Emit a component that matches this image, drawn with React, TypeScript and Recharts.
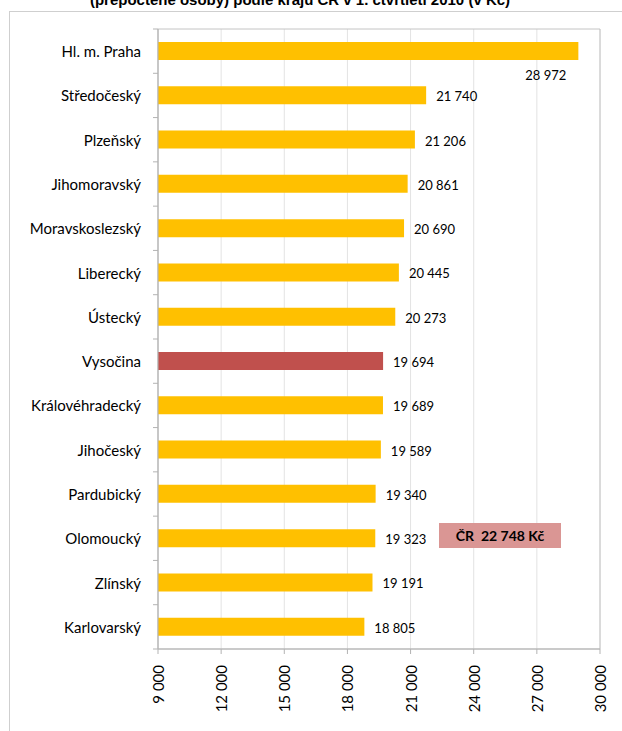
import React from 'react';
import { BarChart, Bar, XAxis, YAxis, CartesianGrid, Cell, LabelList, ReferenceArea } from 'recharts';

const regions = ['Hl. m. Praha', 'Středočeský', 'Plzeňský', 'Jihomoravský', 'Moravskoslezský', 'Liberecký', 'Ústecký', 'Vysočina', 'Královéhradecký', 'Jihočeský', 'Pardubický', 'Olomoucký', 'Zlínský', 'Karlovarský'];
const wages = [28972, 21740, 21206, 20861, 20690, 20445, 20273, 19694, 19689, 19589, 19340, 19323, 19191, 18805];
const xTicks = [9000, 12000, 15000, 18000, 21000, 24000, 27000, 30000];
const highlightRegion = 'Vysočina';
const czAverage = 22748;
const titleText = '(přepočtené osoby) podle krajů ČR v 1. čtvrtletí 2010 (v Kč)';

const data = regions.map((name, i) => ({ name, value: wages[i] }));
const maxWage = Math.max(...wages);

const FONT = 'Lato, "Open Sans", sans-serif';
const AXIS_GRAY = '#B3B3B3';
const BAND = 620 / regions.length;

const fmt = (v: number) => String(v).replace(/\B(?=(\d{3})+(?!\d))/g, '\u00a0');

const CatTick = (props: any) => {
  const { x, y, payload, index } = props;
  const last = index === regions.length - 1;
  return (
    <g>
      <line x1={x - 5} x2={x} y1={y - BAND / 2} y2={y - BAND / 2} stroke={AXIS_GRAY} />
      {last && <line x1={x - 5} x2={x} y1={y + BAND / 2} y2={y + BAND / 2} stroke={AXIS_GRAY} />}
      <text x={x - 17} y={y} textAnchor="end" dominantBaseline="central" fontFamily={FONT} fontSize={15} fill="#000">
        {payload.value}
      </text>
    </g>
  );
};

const ValTick = (props: any) => {
  const { x, y, payload } = props;
  return (
    <text
      x={x}
      y={y + 11}
      transform={`rotate(-90 ${x} ${y + 11})`}
      textAnchor="end"
      dominantBaseline="central"
      fontFamily={FONT}
      fontSize={15}
      fill="#000"
    >
      {fmt(payload.value)}
    </text>
  );
};

const ValueLabel = (props: any) => {
  const { x, y, width, height, value } = props;
  if (value === maxWage) {
    return (
      <text x={x + width - 12} y={y + height + 15} textAnchor="end" dominantBaseline="central" fontFamily={FONT} fontSize={13} fill="#000">
        {fmt(value)}
      </text>
    );
  }
  return (
    <text x={x + width + 10} y={y + height / 2 + 1} textAnchor="start" dominantBaseline="central" fontFamily={FONT} fontSize={13} fill="#000">
      {fmt(value)}
    </text>
  );
};

export default function App() {
  return (
    <div style={{ position: 'absolute', left: 0, top: 0, width: 622, height: 731, overflow: 'hidden', background: '#fff' }}>
      <div
        style={{
          position: 'absolute',
          left: 0,
          width: 600,
          top: -9,
          textAlign: 'center',
          fontFamily: '"Liberation Sans", Arial, sans-serif',
          fontWeight: 'bold',
          fontSize: 15,
          lineHeight: '17px',
          color: '#000',
          whiteSpace: 'nowrap',
        }}
      >
        {titleText}
      </div>
      <div
        style={{
          position: 'absolute',
          left: 9,
          top: 11,
          width: 640,
          height: 760,
          border: '1px solid #CFCFCF',
          boxSizing: 'border-box',
        }}
      />
      <div style={{ position: 'absolute', left: 0, top: 0 }}>
        <BarChart
          width={622}
          height={731}
          data={data}
          layout="vertical"
          margin={{ top: 29, right: 22, bottom: 0, left: 8 }}
          barSize={18}
        >
          <CartesianGrid horizontal={false} vertical stroke="#E3E3E3" />
          <ReferenceArea x1={9000} x2={30000} stroke="#C4C4C4" fill="none" fillOpacity={0} ifOverflow="visible" />
          <XAxis
            type="number"
            domain={[9000, 30000]}
            ticks={xTicks}
            allowDataOverflow
            height={82}
            tickSize={5}
            tickMargin={0}
            tickLine={{ stroke: AXIS_GRAY }}
            axisLine={{ stroke: AXIS_GRAY }}
            tick={<ValTick />}
            interval={0}
          />
          <YAxis
            type="category"
            dataKey="name"
            width={150}
            tickSize={0}
            tickMargin={0}
            tickLine={false}
            axisLine={{ stroke: AXIS_GRAY }}
            tick={<CatTick />}
            interval={0}
          />
          <Bar dataKey="value" isAnimationActive={false}>
            {data.map((d) => (
              <Cell key={d.name} fill={d.name === highlightRegion ? '#C0504D' : '#FFC000'} />
            ))}
            <LabelList dataKey="value" content={<ValueLabel />} />
          </Bar>
        </BarChart>
      </div>
      <div
        style={{
          position: 'absolute',
          left: 439,
          top: 523,
          width: 122,
          height: 25,
          background: '#DA9694',
          display: 'flex',
          alignItems: 'center',
          justifyContent: 'center',
          fontFamily: FONT,
          fontWeight: 'bold',
          fontSize: 14,
          color: '#000',
          whiteSpace: 'pre',
        }}
      >
        {`ČR  ${fmt(czAverage)} Kč`}
      </div>
    </div>
  );
}
